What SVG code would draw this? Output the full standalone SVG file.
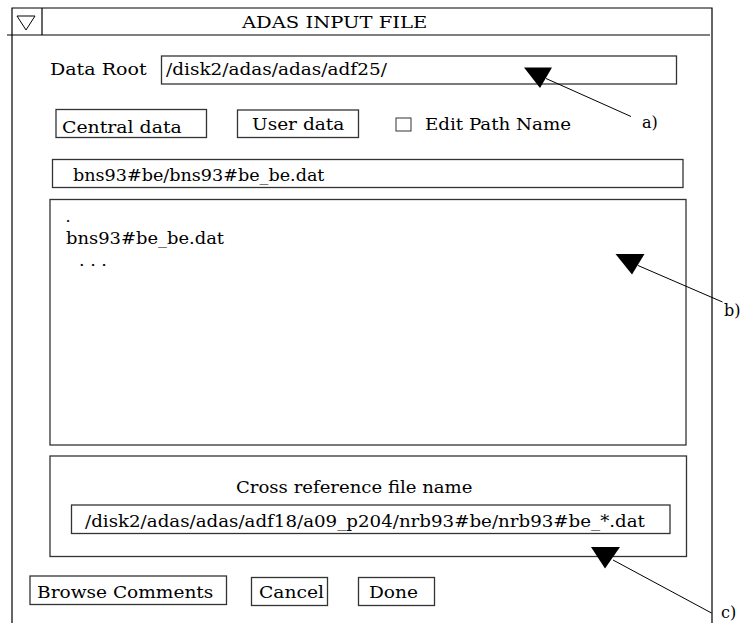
<svg xmlns="http://www.w3.org/2000/svg" width="750" height="623" viewBox="0 0 750 623">
<style>
text{fill:#000}
.box{fill:#fff;stroke:#333;stroke-width:1.3}
.frame{fill:none;stroke:#000;stroke-width:1.2}
.lead{stroke:#000;stroke-width:1;fill:none}
.head{fill:#000}
</style>
<rect width="750" height="623" fill="#fff"/>
<g font-family="DejaVu Serif, Liberation Serif, serif" font-size="16">
<g id="window">
<polyline class="frame" points="12,623 12,8 712,8 712,623"/>
<line class="frame" x1="7" y1="35" x2="710" y2="35"/>
<line class="frame" x1="42" y1="8" x2="42" y2="35"/>
<polygon points="17,16 35,16 26,30" fill="none" stroke="#000" stroke-width="1"/>
<text transform="translate(242,28) scale(1.15,1)" font-size="17">ADAS INPUT FILE</text>
</g>
<g id="data-root">
<text transform="translate(50,75) scale(1.19,1)">Data Root</text>
<rect class="box" x="161.5" y="56" width="515" height="28"/>
<text transform="translate(166,75) scale(1.154,1)">/disk2/adas/adas/adf25/</text>
</g>
<g id="central-data">
<rect class="box" x="56" y="109.5" width="150.5" height="28"/>
<text transform="translate(62,132.5) scale(1.18,1)">Central data</text>
</g>
<g id="user-data">
<rect class="box" x="237.5" y="110" width="121" height="27.5"/>
<text transform="translate(252,129.5) scale(1.16,1)">User data</text>
</g>
<g id="edit-path">
<rect x="396" y="118" width="15" height="13" fill="#fff" stroke="#333" stroke-width="1"/>
<text transform="translate(425,130) scale(1.14,1)">Edit Path Name</text>
</g>
<g id="file-name">
<rect class="box" x="52.5" y="159.5" width="630.5" height="28"/>
<text transform="translate(73,181) scale(1.1,1)">bns93#be/bns93#be_be.dat</text>
</g>
<g id="file-list">
<rect class="box" x="50" y="199.5" width="636" height="245.5"/>
<text x="65.5" y="222">.</text>
<text transform="translate(66,244) scale(1.12,1)">bns93#be_be.dat</text>
<text transform="translate(79,266) scale(1.1,1)">. . .</text>
</g>
<g id="cross-reference">
<rect class="box" x="50" y="456" width="636.5" height="100.5"/>
<text transform="translate(236,493) scale(1.13,1)">Cross reference file name</text>
<rect class="box" x="71.5" y="505" width="598.5" height="28.5"/>
<text transform="translate(85,527) scale(1.14,1)">/disk2/adas/adas/adf18/a09_p204/nrb93#be/nrb93#be_*.dat</text>
</g>
<g id="browse-comments">
<rect class="box" x="30" y="576" width="196.5" height="28.5"/>
<text transform="translate(37,598) scale(1.16,1)">Browse Comments</text>
</g>
<g id="cancel">
<rect class="box" x="251.5" y="577.5" width="76" height="28"/>
<text transform="translate(259,598) scale(1.17,1)">Cancel</text>
</g>
<g id="done">
<rect class="box" x="358.5" y="577.5" width="76" height="28"/>
<text transform="translate(369,598) scale(1.16,1)">Done</text>
</g>
<g id="connectors">
<polygon class="head" points="524,67.5 552,67.5 540,88"/>
<line class="lead" x1="546" y1="78.5" x2="631" y2="116.5"/>
<polygon class="head" points="615.5,254 644.5,254 632,274.5"/>
<line class="lead" x1="638" y1="265.5" x2="722.5" y2="302"/>
<polygon class="head" points="591,547 620,547 605,568.5"/>
<line class="lead" x1="613" y1="560" x2="711.5" y2="613"/>
</g>
<g id="labels">
<text x="642" y="128">a)</text>
<text x="724" y="316">b)</text>
<text x="721" y="618">c)</text>
</g>
</g>
</svg>
